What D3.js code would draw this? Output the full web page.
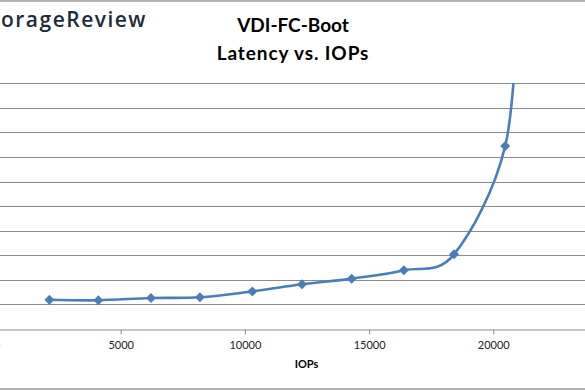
<!DOCTYPE html>
<html>
<head>
<meta charset="utf-8">
<script src="https://cdn.jsdelivr.net/npm/d3@7"></script>
<style>
  body { margin: 0; background: #fff; }
  svg { display: block; }
</style>
</head>
<body>
<script>
(function() {
  'use strict';

  // data (latency in ms, one gridline per ms)
  var iops = [2130, 4100, 6220, 8190, 10300, 12300, 14300, 16400, 18420, 20480, 21000];
  var latency = [1.19, 1.17, 1.26, 1.29, 1.53, 1.82, 2.05, 2.39, 3.04, 7.45, 14];
  var xTicks = [0, 5000, 10000, 15000, 20000, 25000];
  var yTicks = [0, 1, 2, 3, 4, 5, 6, 7, 8, 9, 10];

  var w = 585;
  var h = 390;
  var blue = '#4a7ebb';

  var svg = d3.select('body')
    .append('svg')
    .attr('width', w)
    .attr('height', h);

  // chart frame (only top and bottom edges are in view)
  svg.append('line')
    .attr('x1', 0).attr('x2', w).attr('y1', 1).attr('y2', 1)
    .attr('stroke', '#9a9a9a').attr('stroke-width', 1.5);
  svg.append('line')
    .attr('x1', 0).attr('x2', w).attr('y1', 389).attr('y2', 389)
    .attr('stroke', '#9a9a9a').attr('stroke-width', 1.5);

  // logo, "St" falls off the left edge like in the crop
  var logo = svg.append('text')
    .attr('x', 0)
    .attr('y', 27)
    .attr('font-family', '"Open Sans", sans-serif')
    .attr('font-weight', 600)
    .attr('font-size', '21px')
    .attr('fill', '#1d2c3a')
    .text('StorageReview');
  var visible = logo.node().getSubStringLength(2, 11);
  var spacing = (146 - visible) / 11;
  logo.attr('letter-spacing', spacing + 'px');
  var cut = logo.node().getSubStringLength(0, 2);
  logo.attr('x', -cut + 1);

  // title
  var title = svg.append('text')
    .attr('text-anchor', 'middle')
    .attr('font-family', 'Lato, sans-serif')
    .attr('font-weight', 'bold')
    .attr('font-size', '19px')
    .attr('fill', '#000');
  title.append('tspan').attr('x', 293).attr('y', 32).text('VDI-FC-Boot');
  title.append('tspan').attr('x', 293).attr('y', 60)
    .attr('letter-spacing', '0.9px')
    .text('Latency vs. IOPs');

  var xScale = d3.scaleLinear()
    .domain([0, 25000])
    .range([-3.5, 617.5]);

  var yScale = d3.scaleLinear()
    .domain([0, 10])
    .range([329, 83.3]);

  // gridlines
  svg.append('g')
    .selectAll('line')
    .data(yTicks.slice(1))
    .enter()
    .append('line')
    .attr('x1', xScale(0))
    .attr('x2', xScale(25000))
    .attr('y1', function(d) { return Math.round(yScale(d)) + 0.5; })
    .attr('y2', function(d) { return Math.round(yScale(d)) + 0.5; })
    .attr('stroke', '#8c8c8c')
    .attr('stroke-width', 1);

  // y axis, its labels sit beyond the left edge like in the crop
  svg.append('g')
    .attr('transform', 'translate(' + xScale(0) + ',0)')
    .call(d3.axisLeft(yScale).tickValues(yTicks).tickSize(5))
    .call(function(g) {
      g.selectAll('text').attr('font-family', 'Lato, sans-serif').attr('font-size', '11px');
    });

  // x axis
  var xAxis = svg.append('g')
    .attr('transform', 'translate(0,' + (Math.round(yScale(0)) + 0.5) + ')')
    .call(d3.axisBottom(xScale).tickValues(xTicks).tickSize(5).tickPadding(7)
      .tickFormat(d3.format('d')));
  xAxis.select('.domain').attr('stroke', '#8c8c8c');
  xAxis.selectAll('.tick line').attr('stroke', '#8c8c8c');
  xAxis.selectAll('text')
    .attr('font-family', 'Lato, sans-serif')
    .attr('font-size', '11px')
    .attr('fill', '#222');

  svg.append('text')
    .attr('x', 306.5)
    .attr('y', 368)
    .attr('text-anchor', 'middle')
    .attr('font-family', 'Lato, sans-serif')
    .attr('font-weight', 'bold')
    .attr('font-size', '11px')
    .attr('fill', '#000')
    .text('IOPs');

  // plot area clip
  svg.append('clipPath')
    .attr('id', 'plot')
    .append('rect')
    .attr('x', xScale(0))
    .attr('y', yScale(10))
    .attr('width', xScale(25000) - xScale(0))
    .attr('height', yScale(0) - yScale(10));

  var points = iops.map(function(d, i) {
    return [d, latency[i]];
  });

  var line = d3.line()
    .x(function(d) { return xScale(d[0]); })
    .y(function(d) { return yScale(d[1]); })
    .curve(d3.curveCardinal.tension(0));

  var plot = svg.append('g').attr('clip-path', 'url(#plot)');

  plot.append('path')
    .datum(points)
    .attr('d', line)
    .attr('fill', 'none')
    .attr('stroke', blue)
    .attr('stroke-width', 2.6);

  plot.selectAll('path.marker')
    .data(points)
    .enter()
    .append('path')
    .attr('class', 'marker')
    .attr('d', d3.symbol().type(d3.symbolSquare).size(50))
    .attr('transform', function(d) {
      return 'translate(' + xScale(d[0]) + ',' + yScale(d[1]) + ') rotate(45)';
    })
    .attr('fill', blue);

})();
</script>
</body>
</html>
